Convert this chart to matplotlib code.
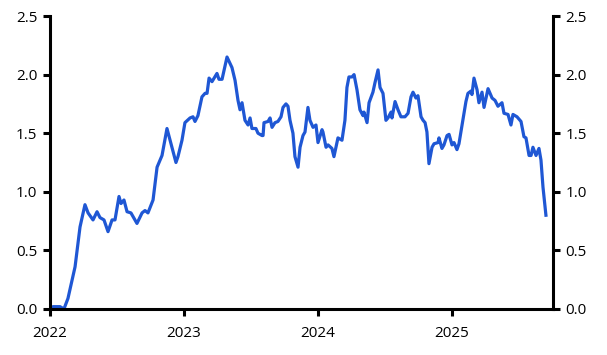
import numpy as np
import matplotlib.pyplot as plt

# time in years since start of 2022
t = [0.000, 0.022, 0.075, 0.104, 0.134, 0.187, 0.224, 0.261, 0.284, 0.321,
     0.351, 0.373, 0.403, 0.433, 0.463, 0.485, 0.515, 0.530, 0.552, 0.575,
     0.604, 0.649, 0.687, 0.709, 0.731, 0.769, 0.799, 0.836, 0.873, 0.910,
     0.940, 0.955, 0.985, 1.007, 1.045, 1.067, 1.082, 1.104, 1.134, 1.157,
     1.172, 1.187, 1.209, 1.246, 1.261, 1.284, 1.321, 1.358, 1.381, 1.403,
     1.418, 1.433, 1.455, 1.478, 1.493, 1.507, 1.537, 1.552, 1.582, 1.590,
     1.597, 1.627, 1.642, 1.657, 1.679, 1.701, 1.724, 1.739, 1.761, 1.776,
     1.791, 1.813, 1.828, 1.851, 1.866, 1.888, 1.903, 1.925, 1.940, 1.963,
     1.985, 2.000, 2.030, 2.037, 2.060, 2.075, 2.104, 2.119, 2.149, 2.179,
     2.201, 2.216, 2.231, 2.254, 2.269, 2.291, 2.313, 2.336, 2.343, 2.366,
     2.381, 2.410, 2.425, 2.448, 2.463, 2.485, 2.507, 2.522, 2.545, 2.552,
     2.575, 2.597, 2.619, 2.649, 2.672, 2.694, 2.709, 2.731, 2.746, 2.769,
     2.784, 2.799, 2.813, 2.828, 2.851, 2.866, 2.896, 2.903, 2.925, 2.940,
     2.963, 2.978, 3.000, 3.015, 3.037, 3.052, 3.075, 3.104, 3.119, 3.142,
     3.149, 3.164, 3.187, 3.201, 3.224, 3.239, 3.269, 3.299, 3.321, 3.343,
     3.373, 3.388, 3.418, 3.440, 3.455, 3.485, 3.515, 3.537, 3.552, 3.575,
     3.590, 3.604, 3.627, 3.649, 3.664, 3.679, 3.701]

values = [0.00, 0.02, 0.02, 0.00, 0.09, 0.36, 0.70, 0.89, 0.82, 0.76,
          0.83, 0.78, 0.76, 0.66, 0.76, 0.76, 0.96, 0.90, 0.93, 0.83,
          0.82, 0.73, 0.82, 0.84, 0.82, 0.93, 1.21, 1.31, 1.54, 1.38,
          1.25, 1.30, 1.44, 1.59, 1.63, 1.64, 1.60, 1.65, 1.81, 1.84,
          1.84, 1.97, 1.94, 2.01, 1.96, 1.96, 2.15, 2.06, 1.95, 1.78,
          1.70, 1.76, 1.61, 1.57, 1.63, 1.54, 1.54, 1.50, 1.48, 1.48,
          1.59, 1.60, 1.63, 1.55, 1.59, 1.60, 1.64, 1.72, 1.75, 1.73,
          1.61, 1.50, 1.30, 1.21, 1.38, 1.48, 1.51, 1.72, 1.61, 1.55,
          1.57, 1.42, 1.53, 1.51, 1.38, 1.40, 1.37, 1.30, 1.46, 1.44,
          1.61, 1.89, 1.98, 1.98, 2.00, 1.87, 1.70, 1.65, 1.68, 1.59,
          1.76, 1.85, 1.93, 2.04, 1.89, 1.84, 1.61, 1.63, 1.68, 1.63,
          1.77, 1.70, 1.64, 1.64, 1.67, 1.81, 1.85, 1.80, 1.82, 1.64,
          1.61, 1.59, 1.51, 1.24, 1.38, 1.41, 1.42, 1.46, 1.37, 1.40,
          1.48, 1.49, 1.40, 1.42, 1.36, 1.41, 1.57, 1.77, 1.84, 1.86,
          1.83, 1.97, 1.87, 1.76, 1.85, 1.72, 1.88, 1.80, 1.78, 1.73,
          1.76, 1.67, 1.66, 1.57, 1.66, 1.64, 1.60, 1.47, 1.46, 1.31,
          1.31, 1.38, 1.31, 1.37, 1.27, 1.04, 0.80]

years = [2022, 2023, 2024, 2025]
yticks = [0.0, 0.5, 1.0, 1.5, 2.0, 2.5]

plt.rcParams['font.family'] = ['Open Sans', 'DejaVu Sans']

fig = plt.figure(figsize=(6.07, 3.55), dpi=100)
ax = fig.add_axes([50 / 607, 1 - 309 / 355, 503 / 607, 293 / 355])

x = 2022 + np.array(t)
ax.plot(x, values, color='#1f57d4', lw=2.3, solid_joinstyle='round')

ax.set_xlim(2022, 2022 + 503 / 134)
ax.set_ylim(0, 2.5)
ax.set_xticks(years)
ax.set_xticklabels([str(y) for y in years])
ax.set_yticks(yticks)
ax.set_yticklabels(['%.1f' % v for v in yticks])

for side in ['left', 'right', 'bottom']:
    ax.spines[side].set_linewidth(2.2)
ax.spines['top'].set_visible(False)

ax.tick_params(axis='both', direction='out', length=5, width=2.2,
               labelsize=11, colors='black')
ax.tick_params(axis='y', right=True, labelright=True, pad=4)
ax.tick_params(axis='x', pad=7)

fig.savefig('out.png', dpi=100)
